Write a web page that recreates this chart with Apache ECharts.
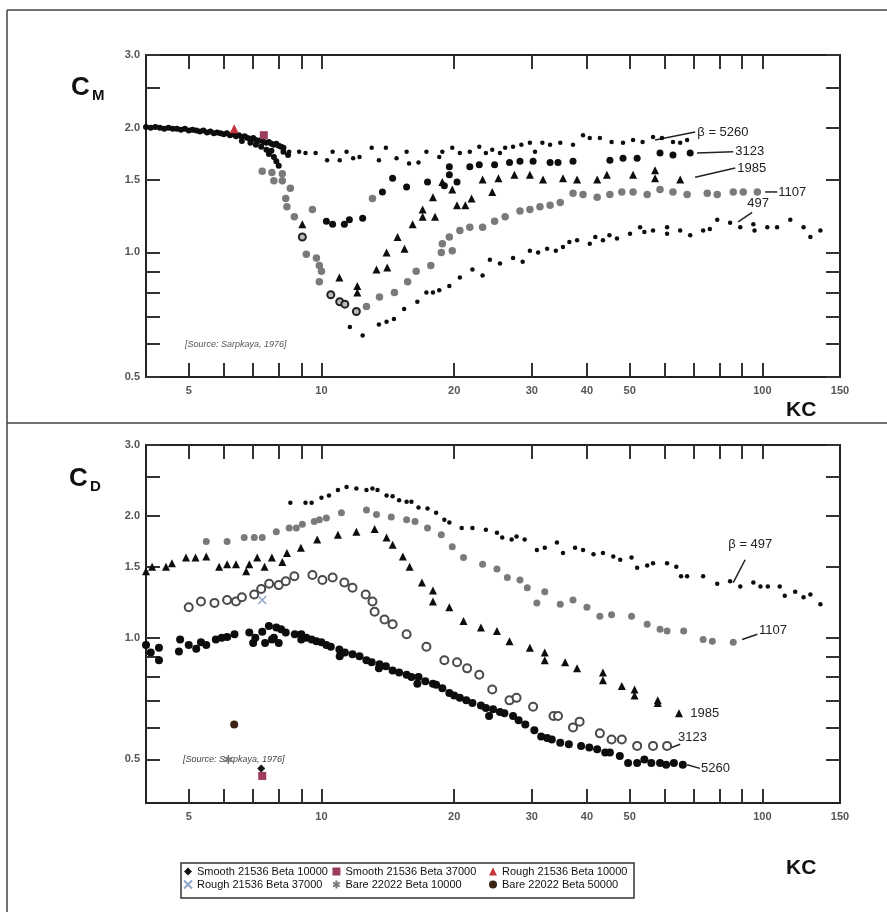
<!DOCTYPE html>
<html>
<head>
<meta charset="utf-8">
<title>CM / CD vs KC</title>
<script src="https://cdn.jsdelivr.net/npm/echarts@6/dist/echarts.min.js"></script>
<style>
  html, body { margin: 0; background: #fff; }
  #main { width: 887px; height: 912px; }
</style>
</head>
<body>
<div id="main"></div>
<script>
// axis ticks / labels
const xTicks = [5, 6, 7, 8, 9, 10, 20, 30, 40, 50, 60, 70, 80, 90, 100];
const xLabels = [5, 10, 20, 30, 40, 50, 100, 150];
const yTicks = [0.5, 0.6, 0.7, 0.8, 0.9, 1.0, 1.5, 2.0, 2.5, 3.0];
const yLabels = [0.5, 1.0, 1.5, 2.0, 3.0];

// ---- C_M (top panel) ----
const cmBand = [[4.0,2.01],[4.1,2.0],[4.2,2.01],[4.3,2.0],[4.4,1.99],[4.5,2.0],[4.6,1.99],[4.7,1.99],[4.8,1.98],[4.9,1.99],[5.0,1.97],[5.1,1.98],[5.2,1.97],[5.3,1.96],[5.4,1.97],[5.5,1.95],[5.6,1.96],[5.7,1.94],[5.8,1.95],[5.9,1.94],[6.0,1.93],[6.1,1.94],[6.2,1.92],[6.3,1.93],[6.4,1.91],[6.5,1.92],[6.6,1.9],[6.7,1.91],[6.8,1.89],[6.9,1.88],[7.0,1.89],[7.1,1.87],[7.2,1.86],[7.3,1.87],[7.4,1.85],[7.5,1.84],[7.6,1.85],[7.7,1.83],[7.8,1.82],[7.9,1.83],[8.0,1.81],[8.1,1.8],[8.2,1.79],[6.6,1.86],[6.9,1.84],[7.1,1.82],[7.3,1.8],[7.5,1.77],[7.6,1.73],[7.8,1.7],[7.9,1.66],[8.0,1.62],[7.7,1.76],[8.2,1.75],[8.4,1.72]];
const cm5260 = [[8.45,1.75],[8.9,1.75],[9.2,1.74],[9.7,1.74],[10.3,1.67],[10.6,1.75],[11.0,1.67],[11.4,1.75],[11.8,1.69],[12.2,1.7],[13.0,1.79],[13.5,1.67],[14.0,1.79],[14.8,1.69],[15.6,1.75],[15.8,1.64],[16.6,1.65],[17.3,1.75],[18.5,1.7],[18.8,1.75],[19.8,1.79],[20.6,1.74],[21.7,1.75],[22.8,1.8],[23.6,1.74],[24.4,1.77],[25.4,1.74],[26.1,1.79],[27.2,1.8],[28.4,1.82],[29.7,1.84],[30.5,1.75],[31.7,1.84],[33,1.82],[34.8,1.84],[37.2,1.82],[39.2,1.92],[40.6,1.89],[42.8,1.89],[45.5,1.85],[48.3,1.84],[50.9,1.87],[53.5,1.85],[56.5,1.9],[59.2,1.89],[62.7,1.85],[65.1,1.84],[67.5,1.87]];
const cm3123 = [[10.26,1.19],[10.6,1.17],[11.27,1.17],[11.57,1.2],[12.4,1.21],[13.75,1.4],[14.5,1.51],[15.6,1.44],[17.4,1.48],[19.0,1.45],[19.5,1.54],[20.3,1.48],[19.5,1.61],[21.7,1.61],[22.8,1.63],[24.7,1.63],[26.7,1.65],[28.2,1.66],[30.2,1.66],[33,1.65],[34.4,1.65],[37.2,1.66],[45.1,1.67],[48.3,1.69],[52,1.69],[58.6,1.74],[62.7,1.72],[68.6,1.74]];
const cm1985 = [[9.05,1.17],[10.98,0.87],[12.06,0.83],[12.06,0.8],[13.33,0.91],[14.1,0.92],[14.05,1.0],[15.43,1.02],[14.88,1.09],[16.1,1.17],[16.96,1.27],[16.96,1.22],[18.1,1.22],[17.9,1.36],[19.8,1.42],[21.9,1.35],[24.4,1.4],[20.3,1.3],[21.2,1.3],[18.8,1.48],[23.2,1.5],[25.2,1.51],[27.4,1.54],[29.7,1.54],[31.8,1.5],[35.3,1.51],[38,1.5],[42.2,1.5],[44.4,1.54],[50.9,1.54],[57.1,1.58],[57.1,1.51],[65.1,1.5]];
const cm1107 = [[7.34,1.57],[7.72,1.56],[8.15,1.55],[7.8,1.49],[8.15,1.49],[8.5,1.43],[8.3,1.35],[8.35,1.29],[8.68,1.22],[9.54,1.27],[13.05,1.35],[9.24,0.99],[9.74,0.97],[9.89,0.93],[10.0,0.9],[9.89,0.85],[12.65,0.74],[13.54,0.78],[14.64,0.8],[15.68,0.85],[16.4,0.9],[17.7,0.93],[18.7,1.0],[19.8,1.01],[18.8,1.05],[19.5,1.09],[20.6,1.13],[21.7,1.15],[23.2,1.15],[24.7,1.19],[26.1,1.22],[28.2,1.26],[29.7,1.27],[31.3,1.29],[33,1.3],[34.8,1.32],[37.2,1.39],[39.2,1.38],[42.2,1.36],[45.1,1.38],[48,1.4],[50.9,1.4],[54.8,1.38],[58.6,1.42],[62.7,1.4],[67.5,1.38],[75,1.39],[79,1.38],[85.9,1.4],[90.5,1.4],[97.4,1.4]];
const cmRing = [[9.05,1.09],[10.5,0.79],[11.0,0.76],[11.3,0.75],[12.0,0.72]];
const cm497 = [[11.6,0.66],[12.4,0.63],[13.5,0.67],[14.05,0.68],[14.6,0.69],[15.4,0.73],[16.5,0.76],[17.3,0.8],[17.9,0.8],[18.5,0.81],[19.5,0.83],[20.6,0.87],[22,0.91],[23.2,0.88],[24.1,0.96],[25.4,0.94],[27.2,0.97],[28.6,0.95],[29.7,1.01],[31,1.0],[32.5,1.02],[34,1.01],[35.3,1.03],[36.5,1.06],[38,1.07],[40.6,1.05],[41.8,1.09],[43.5,1.07],[45,1.1],[46.8,1.08],[50.1,1.11],[52.8,1.15],[54,1.12],[56.5,1.13],[60.8,1.15],[60.8,1.11],[65.1,1.13],[68.6,1.1],[73.4,1.13],[76,1.14],[79,1.2],[84.5,1.18],[89.1,1.15],[95.4,1.17],[96,1.13],[102.6,1.15],[108,1.15],[115.7,1.2],[124,1.15],[128.5,1.09],[135.4,1.13]];

// ---- C_D (bottom panel) ----
const cd497 = [[8.5,2.16],[9.2,2.16],[9.5,2.16],[10.0,2.22],[10.4,2.25],[10.9,2.32],[11.4,2.36],[12.0,2.34],[12.65,2.32],[13.05,2.34],[13.4,2.32],[14.05,2.25],[14.5,2.24],[15.0,2.19],[15.6,2.17],[16.0,2.17],[16.6,2.1],[17.4,2.09],[18.2,2.04],[19.0,1.96],[19.5,1.93],[20.8,1.87],[22.0,1.87],[23.6,1.85],[25.0,1.82],[25.7,1.77],[27.0,1.75],[27.7,1.78],[28.9,1.75],[30.8,1.65],[32.1,1.67],[34.2,1.72],[35.3,1.62],[37.6,1.67],[39.2,1.65],[41.4,1.61],[43.5,1.62],[45.9,1.59],[47.6,1.56],[50.5,1.58],[52,1.49],[54.8,1.51],[56.5,1.53],[60.8,1.53],[63.8,1.5],[65.4,1.42],[67.5,1.42],[73.4,1.42],[79,1.36],[84.5,1.38],[89.1,1.34],[95.4,1.37],[99,1.34],[102.9,1.34],[109.5,1.34],[112.4,1.27],[118.7,1.3],[124,1.26],[128.5,1.28],[135.4,1.21]];
const cd1107 = [[5.48,1.73],[6.11,1.73],[6.68,1.77],[7.04,1.77],[7.34,1.77],[7.9,1.83],[8.45,1.87],[8.77,1.87],[9.05,1.91],[9.63,1.94],[9.89,1.96],[10.26,1.98],[11.1,2.04],[12.65,2.07],[13.33,2.02],[14.4,1.99],[15.6,1.96],[16.3,1.94],[17.4,1.87],[18.7,1.8],[19.8,1.68],[21.0,1.58],[23.2,1.52],[25.0,1.48],[26.4,1.41],[28.2,1.39],[29.3,1.33],[32.1,1.3],[30.8,1.22],[34.8,1.21],[37.2,1.24],[40.0,1.19],[42.8,1.13],[45.5,1.14],[50.5,1.13],[54.8,1.08],[58.6,1.05],[60.8,1.04],[66.3,1.04],[73.4,0.99],[77,0.98],[85.9,0.975]];
const cd1985 = [[4.0,1.46],[4.13,1.5],[4.44,1.5],[4.58,1.53],[4.93,1.58],[5.18,1.58],[5.48,1.59],[5.86,1.5],[6.11,1.52],[6.4,1.52],[6.86,1.52],[7.15,1.58],[6.75,1.46],[7.43,1.5],[7.72,1.58],[8.15,1.54],[8.35,1.62],[8.98,1.67],[9.78,1.75],[10.9,1.8],[12.0,1.83],[13.2,1.86],[14.05,1.77],[14.5,1.7],[15.3,1.59],[15.85,1.5],[16.9,1.37],[17.9,1.31],[17.9,1.23],[19.5,1.19],[21.0,1.1],[23.0,1.06],[25.0,1.04],[26.7,0.98],[29.7,0.945],[32.1,0.92],[32.1,0.88],[35.7,0.87],[38.0,0.84],[43.5,0.82],[43.5,0.785],[48.0,0.76],[51.3,0.745],[51.3,0.72],[57.9,0.7],[57.9,0.69],[64.7,0.65]];
const cd3123 = [[5.0,1.19],[5.33,1.23],[5.72,1.22],[6.11,1.24],[6.4,1.23],[6.6,1.26],[7.04,1.28],[7.3,1.32],[7.61,1.36],[8.0,1.35],[8.3,1.38],[8.68,1.42],[9.54,1.43],[10.05,1.39],[10.6,1.41],[11.27,1.37],[11.76,1.33],[12.6,1.28],[13.05,1.23],[13.2,1.16],[13.9,1.11],[14.5,1.08],[15.6,1.02],[17.3,0.95],[19.0,0.88],[20.3,0.87],[21.4,0.84],[22.8,0.81],[24.4,0.745],[26.7,0.7],[27.7,0.71],[30.2,0.675],[33.6,0.64],[34.4,0.64],[37.2,0.6],[38.5,0.62],[42.8,0.58],[45.5,0.56],[48.0,0.56],[52.0,0.54],[56.5,0.54],[60.8,0.54]];
const cd5260 = [[4.0,0.96],[4.1,0.92],[4.28,0.945],[4.28,0.88],[4.75,0.925],[4.78,0.99],[5.0,0.96],[5.2,0.94],[5.33,0.975],[5.48,0.96],[5.76,0.99],[5.94,1.0],[6.11,1.005],[6.35,1.02],[6.86,1.03],[7.0,0.97],[7.08,1.0],[7.34,1.035],[7.45,0.97],[7.6,1.07],[7.72,0.99],[7.8,1.0],[7.9,1.06],[8.0,0.97],[8.1,1.05],[8.3,1.03],[8.7,1.02],[9.0,1.02],[9.0,0.99],[9.24,1.0],[9.5,0.99],[9.74,0.98],[10.0,0.975],[10.26,0.96],[10.5,0.95],[10.98,0.935],[11,0.9],[11.3,0.92],[11.76,0.91],[12.2,0.9],[12.65,0.88],[13.0,0.87],[13.5,0.84],[13.54,0.86],[14.0,0.85],[14.5,0.83],[15.0,0.82],[15.6,0.81],[16.0,0.8],[16.5,0.77],[16.6,0.8],[17.2,0.78],[17.9,0.77],[18.2,0.765],[18.8,0.75],[19.5,0.73],[20,0.72],[20.6,0.71],[21.3,0.7],[22.0,0.69],[23,0.68],[23.6,0.67],[24,0.64],[24.5,0.665],[25.4,0.655],[26,0.65],[27.2,0.64],[28,0.625],[29.0,0.61],[30.4,0.59],[31.5,0.57],[32.5,0.565],[33.3,0.56],[34.8,0.55],[36.4,0.545],[38.8,0.54],[40.5,0.535],[42.2,0.53],[44,0.52],[45.1,0.52],[47.5,0.51],[49.6,0.49],[52,0.49],[54,0.5],[56,0.49],[58.6,0.49],[60.5,0.485],[63,0.49],[66,0.485]];

// ---- overlay points (legend series) ----
const smooth10000 = {cd: [[7.3,0.475]]};
const smooth37000 = {cm: [[7.4,1.92]], cd: [[7.34,0.455]]};
const rough10000 = {cm: [[6.34,1.99]]};
const rough37000 = {cd: [[7.34,1.24]]};
const bare10000 = {cd: [[6.15,0.5]]};
const bare50000 = {cd: [[6.34,0.61]]};

// beta annotations: [gridIndex, text, line from, line to, text anchor]
const notes = [
  [0, 'β = 5260', [57.1,1.87], [70.4,1.955], [71.2,1.955]],
  [0, '3123', [71.1,1.74], [85.9,1.75], [86.8,1.75]],
  [0, '1985', [70.4,1.52], [86.8,1.6], [87.7,1.6]],
  [0, '1107', [101.5,1.4], [108.1,1.4], [108.6,1.4]],
  [0, '497', [88.1,1.185], [94.8,1.25], [92.4,1.31]],
  [1, 'β = 497', [85.9,1.37], [91.4,1.56], [83.7,1.7]],
  [1, '1107', [90,0.99], [97.4,1.02], [98.3,1.04]],
  [1, '1985', null, null, [68.6,0.65]],
  [1, '3123', [60.8,0.53], [65.1,0.545], [64.4,0.567]],
  [1, '5260', [67.5,0.485], [72.2,0.475], [72.6,0.475]]
];

const FONT = 'Liberation Sans, Arial, sans-serif';
const CROSS = 'path://M0,0L10,10M10,0L0,10';
const STAR = 'path://M5,0L5,10M0.7,2.5L9.3,7.5M9.3,2.5L0.7,7.5';

function xAxis(grid, pos, showLabel) {
  return {
    type: 'log', logBase: 10, gridIndex: grid, position: pos, min: 4, max: 150,
    axisLine: {show: true, onZero: false, lineStyle: {color: '#222', width: 2}},
    axisTick: {show: true, inside: true, length: 14, customValues: xTicks, lineStyle: {color: '#333', width: 2}},
    axisLabel: {show: showLabel, customValues: xLabels, margin: 8, color: '#555', fontSize: 11, fontWeight: 'bold', fontFamily: FONT},
    splitLine: {show: false}
  };
}
function yAxis(grid, pos, showLabel, min) {
  return {
    type: 'log', logBase: 10, gridIndex: grid, position: pos, min: min, max: 3,
    axisLine: {show: true, onZero: false, lineStyle: {color: '#222', width: 2}},
    axisTick: {show: true, inside: true, length: 14, customValues: yTicks, lineStyle: {color: '#333', width: 2}},
    axisLabel: {show: showLabel, customValues: yLabels, margin: 6, color: '#555', fontSize: 11, fontWeight: 'bold', fontFamily: FONT,
      formatter: v => Number(v).toFixed(1)},
    splitLine: {show: false}
  };
}

function sc(name, data, grid, symbol, size, style) {
  return {
    name: name, type: 'scatter', data: data,
    xAxisIndex: grid * 2, yAxisIndex: grid * 2,
    symbol: symbol, symbolSize: size, itemStyle: Object.assign({opacity: 1}, style),
    silent: true, animation: false
  };
}

const dot = {color: '#0d0d0d'};
const gray = {color: '#7a7a7a'};
const ring = {color: '#fff', borderColor: '#4a4a4a', borderWidth: 2};

let series = [
  sc('cm-band', cmBand, 0, 'circle', 6, dot),
  sc('cm-5260', cm5260, 0, 'circle', 4.5, dot),
  sc('cm-3123', cm3123, 0, 'circle', 7, dot),
  sc('cm-1985', cm1985, 0, 'triangle', 8, dot),
  sc('cm-1107', cm1107, 0, 'circle', 7.5, gray),
  sc('cm-ring', cmRing, 0, 'circle', 7, {color: '#bbb', borderColor: '#222', borderWidth: 2}),
  sc('cm-497', cm497, 0, 'circle', 4.5, dot),
  sc('cd-497', cd497, 1, 'circle', 4.5, dot),
  sc('cd-1107', cd1107, 1, 'circle', 7, gray),
  sc('cd-1985', cd1985, 1, 'triangle', 8, dot),
  sc('cd-3123', cd3123, 1, 'circle', 8, ring),
  sc('cd-5260', cd5260, 1, 'circle', 8, dot)
];

// legend series, one per panel where they occur
const legendDefs = [
  ['Smooth 21536 Beta 10000', smooth10000, 'diamond', 8, {color: '#111'}],
  ['Smooth 21536 Beta 37000', smooth37000, 'rect', 8, {color: '#9c3c5e'}],
  ['Rough 21536 Beta 10000', rough10000, 'triangle', 9, {color: '#c8323c'}],
  ['Rough 21536 Beta 37000', rough37000, CROSS, 8, {color: '#8fa6c8', borderColor: '#8fa6c8', borderWidth: 1.5}],
  ['Bare 22022 Beta 10000', bare10000, STAR, 9, {color: '#777', borderColor: '#777', borderWidth: 1.5}],
  ['Bare 22022 Beta 50000', bare50000, 'circle', 8, {color: '#3a2416'}]
];
legendDefs.forEach(d => {
  series.push(sc(d[0], d[1].cm || [], 0, d[2], d[3], d[4]));
  series.push(sc(d[0], d[1].cd || [], 1, d[2], d[3], d[4]));
});

function legendCol(names, left) {
  return {
    data: names, orient: 'vertical', left: left, top: 866, padding: 0,
    itemGap: 2, itemWidth: 8, itemHeight: 8, selectedMode: false,
    textStyle: {fontSize: 11, color: '#111', fontFamily: FONT}
  };
}

let myChart = echarts.init(document.getElementById('main'));
let option = {
  backgroundColor: '#fff',
  animation: false,
  grid: [
    {left: 146, top: 55, width: 694, height: 322},
    {left: 146, top: 445, width: 694, height: 358}
  ],
  xAxis: [xAxis(0, 'bottom', true), xAxis(0, 'top', false), xAxis(1, 'bottom', true), xAxis(1, 'top', false)],
  yAxis: [yAxis(0, 'left', true, 0.5), yAxis(0, 'right', false, 0.5), yAxis(1, 'left', true, 0.39), yAxis(1, 'right', false, 0.39)],
  legend: [
    legendCol(['Smooth 21536 Beta 10000', 'Rough 21536 Beta 37000'], 183),
    legendCol(['Smooth 21536 Beta 37000', 'Bare 22022 Beta 10000'], 332),
    legendCol(['Rough 21536 Beta 10000', 'Bare 22022 Beta 50000'], 489)
  ],
  series: series
};
myChart.setOption(option);

// frames, titles and beta notes
let g = [
  {type: 'line', shape: {x1: 7, y1: 10, x2: 887, y2: 10}, style: {stroke: '#444', lineWidth: 1.5}},
  {type: 'line', shape: {x1: 7, y1: 423, x2: 887, y2: 423}, style: {stroke: '#444', lineWidth: 1.5}},
  {type: 'line', shape: {x1: 7, y1: 10, x2: 7, y2: 912}, style: {stroke: '#444', lineWidth: 1.5}},
  {type: 'rect', shape: {x: 181, y: 863, width: 453, height: 35}, style: {fill: 'none', stroke: '#333', lineWidth: 1.5}, z: -1},
  {type: 'text', left: 71, top: 75, style: {text: 'C', font: 'bold 26px ' + FONT, fill: '#111'}},
  {type: 'text', left: 92, top: 88, style: {text: 'M', font: 'bold 15px ' + FONT, fill: '#111'}},
  {type: 'text', left: 69, top: 466, style: {text: 'C', font: 'bold 26px ' + FONT, fill: '#111'}},
  {type: 'text', left: 90, top: 479, style: {text: 'D', font: 'bold 15px ' + FONT, fill: '#111'}},
  {type: 'text', left: 786, top: 400, style: {text: 'KC', font: 'bold 21px ' + FONT, fill: '#111'}},
  {type: 'text', left: 786, top: 858, style: {text: 'KC', font: 'bold 21px ' + FONT, fill: '#111'}},
  {type: 'text', left: 185, top: 340, style: {text: '[Source: Sarpkaya, 1976]', font: 'italic 9px ' + FONT, fill: '#555'}},
  {type: 'text', left: 183, top: 755, style: {text: '[Source: Sarpkaya, 1976]', font: 'italic 9px ' + FONT, fill: '#444'}}
];
notes.forEach(n => {
  let finder = {gridIndex: n[0]};
  if (n[2]) {
    let a = myChart.convertToPixel(finder, n[2]);
    let b = myChart.convertToPixel(finder, n[3]);
    g.push({type: 'line', shape: {x1: a[0], y1: a[1], x2: b[0], y2: b[1]}, style: {stroke: '#222', lineWidth: 1.5}});
  }
  let t = myChart.convertToPixel(finder, n[4]);
  g.push({type: 'text', x: t[0], y: t[1], style: {text: n[1], font: '13px ' + FONT, fill: '#222', textVerticalAlign: 'middle', verticalAlign: 'middle'}});
});
myChart.setOption({graphic: g});
</script>
</body>
</html>
